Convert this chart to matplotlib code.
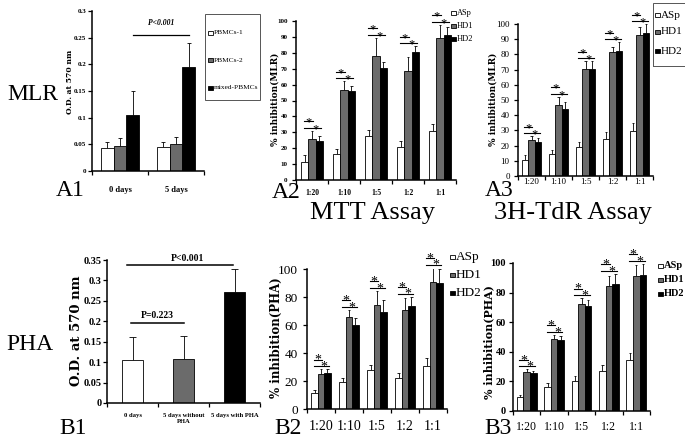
import numpy as np
import matplotlib
matplotlib.use("Agg")
import matplotlib.pyplot as plt
from matplotlib.patches import Rectangle

plt.rcParams["font.family"] = "Liberation Serif"

# ---- data ----
a1_groups = ["0 days", "5 days"]
a1_pbmc1 = [0.044, 0.045]
a1_pbmc1_sd = [0.010, 0.009]
a1_pbmc2 = [0.047, 0.051]
a1_pbmc2_sd = [0.014, 0.012]
a1_mixed = [0.105, 0.195]
a1_mixed_sd = [0.045, 0.045]

ratios = ["1:20", "1:10", "1:5", "1:2", "1:1"]

# MLR, MTT assay
a2_asp = [11.3, 16.1, 27.8, 20.7, 30.7]
a2_asp_sd = [4.3, 3.7, 3.7, 3.9, 4.4]
a2_hd1 = [25.9, 56.6, 78.3, 68.3, 89.4]
a2_hd1_sd = [5.0, 5.6, 11.1, 9.2, 8.3]
a2_hd2 = [24.4, 55.7, 70.6, 80.2, 91.2]
a2_hd2_sd = [3.2, 3.6, 3.9, 3.9, 4.8]

# MLR, 3H-TdR assay
a3_asp = [10.5, 14.7, 18.9, 24.6, 29.9]
a3_asp_sd = [3.1, 2.7, 3.3, 4.6, 5.0]
a3_hd1 = [23.7, 46.6, 70.5, 81.3, 92.5]
a3_hd1_sd = [2.5, 5.7, 5.1, 3.8, 5.3]
a3_hd2 = [22.4, 44.4, 70.1, 82.0, 93.8]
a3_hd2_sd = [2.4, 4.6, 5.5, 6.1, 6.2]

b1_groups = ["0 days", "5 days without\nPHA", "5 days with PHA"]
b1_od = [0.106, 0.108, 0.271]
b1_sd = [0.055, 0.055, 0.056]

# PHA, MTT assay
b2_asp = [11.4, 19.0, 27.6, 22.1, 30.4]
b2_asp_sd = [2.4, 3.0, 4.0, 3.8, 5.9]
b2_hd1 = [24.9, 65.8, 74.3, 70.8, 91.0]
b2_hd1_sd = [3.6, 5.0, 10.0, 8.8, 10.0]
b2_hd2 = [25.7, 60.1, 69.6, 73.6, 90.3]
b2_hd2_sd = [2.8, 5.2, 8.3, 6.7, 9.5]

# PHA, 3H-TdR assay
b3_asp = [9.3, 16.5, 20.5, 27.1, 34.5]
b3_asp_sd = [1.5, 2.7, 3.2, 4.1, 4.5]
b3_hd1 = [26.6, 48.8, 72.2, 84.2, 91.4]
b3_hd1_sd = [1.6, 2.7, 4.1, 6.8, 7.5]
b3_hd2 = [25.5, 48.1, 70.7, 85.8, 92.1]
b3_hd2_sd = [1.6, 2.9, 4.0, 6.8, 7.4]

W, H = 685, 443
WHITE, GRAY, BLACK = "white", "#6b6b6b", "black"

fig = plt.figure(figsize=(W / 100, H / 100), dpi=100)


def px_axes(left, top, right, bottom):
    ax = fig.add_axes([left / W, 1 - bottom / H, (right - left) / W, (bottom - top) / H])
    ax.upp = 1.0 / (bottom - top)  # fraction of y-range per pixel
    return ax


def ftext(x, y, s, **kw):
    fig.text(x / W, 1 - y / H, s, **kw)


def style(ax, ymax, ystep, ncat, fmt, ysize, xsize, yweight, xweight, ypad, xpad):
    ax.set_ylim(0, ymax)
    ax.set_xlim(-0.5, ncat - 0.5)
    for s in ["top", "right"]:
        ax.spines[s].set_visible(False)
    for s in ["left", "bottom"]:
        ax.spines[s].set_linewidth(1.1)
    ticks = np.arange(0, ymax + ystep / 2, ystep)
    ax.set_yticks(ticks)
    ax.set_yticklabels([fmt(t) for t in ticks], fontsize=ysize, fontweight=yweight)
    ax.tick_params(axis="y", direction="out", length=3, width=0.9, pad=ypad)
    ax.set_xticks(np.arange(-0.5, ncat), minor=True)
    ax.tick_params(axis="x", which="minor", direction="out", length=3, width=0.9)
    ax.tick_params(axis="x", which="major", length=0, pad=xpad, labelsize=xsize)
    for lab in ax.get_xticklabels():
        lab.set_fontweight(xweight)


def bars(ax, x, vals, sds, color, width):
    ax.bar(x, vals, width, color=color, edgecolor="black", linewidth=0.6, zorder=2)
    tops = np.add(vals, sds)
    cap = width * 0.18
    ax.vlines(x, vals, tops, color="black", lw=0.6, zorder=1)
    ax.hlines(tops, np.asarray(x) - cap, np.asarray(x) + cap, color="black", lw=0.6, zorder=1)


def grouped(ax, series, sds, width, star_size):
    x = np.arange(len(series[0]))
    for i, (v, s, c) in enumerate(zip(series, sds, [WHITE, GRAY, BLACK])):
        bars(ax, x + (i - 1) * width, v, s, c, width)
    ymax = ax.get_ylim()[1]
    dpx = ymax * ax.upp
    for j in x:
        base = max(np.add(v, s)[j] for v, s in zip(series, sds))
        y_lo = base + 3 * dpx
        y_hi = base + 9.5 * dpx
        x0 = j - width - 0.15 * width
        ax.plot([x0, j + 0.15 * width], [y_hi, y_hi], color="black", lw=0.8, clip_on=False)
        ax.plot([x0, j + width + 0.25 * width], [y_lo, y_lo], color="black", lw=0.8, clip_on=False)
        ax.annotate("*", (j - width / 2, y_hi), xytext=(0, -3.2), textcoords="offset points",
                    ha="center", va="baseline", fontsize=star_size, annotation_clip=False)
        ax.annotate("*", (j + width / 2, y_lo), xytext=(0, -3.2), textcoords="offset points",
                    ha="center", va="baseline", fontsize=star_size, annotation_clip=False)
    ax.set_xticks(x)
    ax.set_xticklabels(ratios)


def legend(x, ys, labels, size, weight, box=None):
    colors = [WHITE, GRAY, BLACK]
    if box is not None:
        l, t, r, b = box
        fig.patches.append(Rectangle((l / W, 1 - b / H), (r - l) / W, (b - t) / H,
                                     transform=fig.transFigure, facecolor="none",
                                     edgecolor="#555555", lw=0.7))
    sq = 4.5
    for y, lab, c in zip(ys, labels, colors):
        fig.patches.append(Rectangle((x / W, 1 - (y + sq / 2) / H), sq / W, sq / H,
                                     transform=fig.transFigure, facecolor=c,
                                     edgecolor="black", lw=0.6))
        ftext(x + sq + 1.5, y, lab, fontsize=size, fontweight=weight, va="center", ha="left")


def od_fmt(t):
    return "0" if t == 0 else ("%.2f" % t).rstrip("0")


def int_fmt(t):
    return "%d" % t


ylab_font = dict(family="DejaVu Serif", fontweight="bold", rotation=90, ha="center", va="center")
big = dict(fontsize=17, ha="center", va="center")

# ---- A1 ----
ax = px_axes(92, 11, 204, 171)
style(ax, 0.3, 0.05, 2, od_fmt, 5, 6, "bold", "bold", 1, 11)
w = 0.23
x = np.arange(2)
bars(ax, x - w, a1_pbmc1, a1_pbmc1_sd, WHITE, w)
bars(ax, x, a1_pbmc2, a1_pbmc2_sd, GRAY, w)
bars(ax, x + w, a1_mixed, a1_mixed_sd, BLACK, w)
ax.set_xticks(x)
ax.set_xticklabels(a1_groups, fontsize=6, fontweight="bold")
ax.plot([w, 1 + w], [0.255, 0.255], color="black", lw=0.9)
ax.text(0.5 + w, 0.27, "P<0.001", fontsize=5.5, fontweight="bold", style="italic",
        ha="center", va="bottom")
ftext(70, 82, "O.D. at 570 nm", fontsize=5.5, **ylab_font)
legend(208, [33, 60, 88], ["PBMCs-1", "PBMCs-2", "mixed-PBMCs"], 5.3, "normal", box=(205, 14, 260, 100))

# ---- A2 ----
ax = px_axes(296, 21, 456, 180)
style(ax, 100, 10, 5, int_fmt, 5, 5.5, "bold", "bold", 3, 6.5)
grouped(ax, [a2_asp, a2_hd1, a2_hd2], [a2_asp_sd, a2_hd1_sd, a2_hd2_sd], 0.23, 9)
ftext(275, 99, "% inhibition(MLR)", fontsize=6.5, **ylab_font)
legend(451, [13, 26, 39], ["ASp", "HD1", "HD2"], 6, "normal")

# ---- A3 ----
ax = px_axes(518, 24, 653, 176)
style(ax, 100, 10, 5, int_fmt, 6.5, 6.5, "normal", "normal", 3, 1.5)
grouped(ax, [a3_asp, a3_hd1, a3_hd2], [a3_asp_sd, a3_hd1_sd, a3_hd2_sd], 0.24, 9)
ftext(493, 99, "% inhibition(MLR)", fontsize=6.5, **ylab_font)
legend(655, [15, 32, 51], ["ASp", "HD1", "HD2"], 8, "normal", box=(653, 3, 700, 66))

# ---- B1 ----
ax = px_axes(107, 260, 260, 403)
style(ax, 0.35, 0.05, 3, od_fmt, 7.5, 4.8, "bold", "bold", 1, 7)
x = np.arange(3)
for xi, v, s, c in zip(x, b1_od, b1_sd, [WHITE, GRAY, BLACK]):
    bars(ax, [xi], [v], [s], c, 0.41)
ax.set_xticks(x)
ax.set_xticklabels(b1_groups, fontsize=4.8, fontweight="bold")
ax.plot([-0.1, 1.97], [0.338, 0.338], color="black", lw=1.1, clip_on=False)
ax.text(1.07, 0.343, "P<0.001", fontsize=7, fontweight="bold", ha="center", va="bottom")
ax.plot([-0.03, 1.0], [0.197, 0.197], color="black", lw=1.1)
ax.text(0.48, 0.203, "P=0.223", fontsize=7, fontweight="bold", ha="center", va="bottom")
ftext(77, 331, "O.D. at 570 nm", fontsize=9.5, **ylab_font)

# ---- B2 ----
ax = px_axes(307, 269, 447, 409)
style(ax, 100, 20, 5, int_fmt, 9.5, 10, "normal", "normal", 3.5, 8)
grouped(ax, [b2_asp, b2_hd1, b2_hd2], [b2_asp_sd, b2_hd1_sd, b2_hd2_sd], 0.23, 10)
ftext(276, 338, "% inhibition(PHA)", fontsize=8.5, **ylab_font)
legend(450, [257, 275, 293], ["ASp", "HD1", "HD2"], 9.5, "normal")

# ---- B3 ----
ax = px_axes(513, 263, 650, 411)
style(ax, 100, 20, 5, int_fmt, 7.5, 8.5, "bold", "normal", 2, 7)
grouped(ax, [b3_asp, b3_hd1, b3_hd2], [b3_asp_sd, b3_hd1_sd, b3_hd2_sd], 0.24, 10)
ftext(489, 342, "% inhibition(PHA)", fontsize=8, **ylab_font)
legend(658, [266, 280, 294], ["ASp", "HD1", "HD2"], 7.5, "bold")

# ---- panel and row labels ----
ftext(33, 95, "MLR", **big)
ftext(30, 345, "PHA", **big)
ftext(70, 191, "A1", **big)
ftext(286, 193, "A2", **big)
ftext(499, 191, "A3", **big)
ftext(73, 428, "B1", **big)
ftext(288, 428, "B2", **big)
ftext(498, 429, "B3", **big)
ftext(373, 213, "MTT Assay", fontsize=19, ha="center", va="center")
ftext(573, 213, "3H-TdR Assay", fontsize=19, ha="center", va="center")

fig.savefig("out.png", dpi=100)
